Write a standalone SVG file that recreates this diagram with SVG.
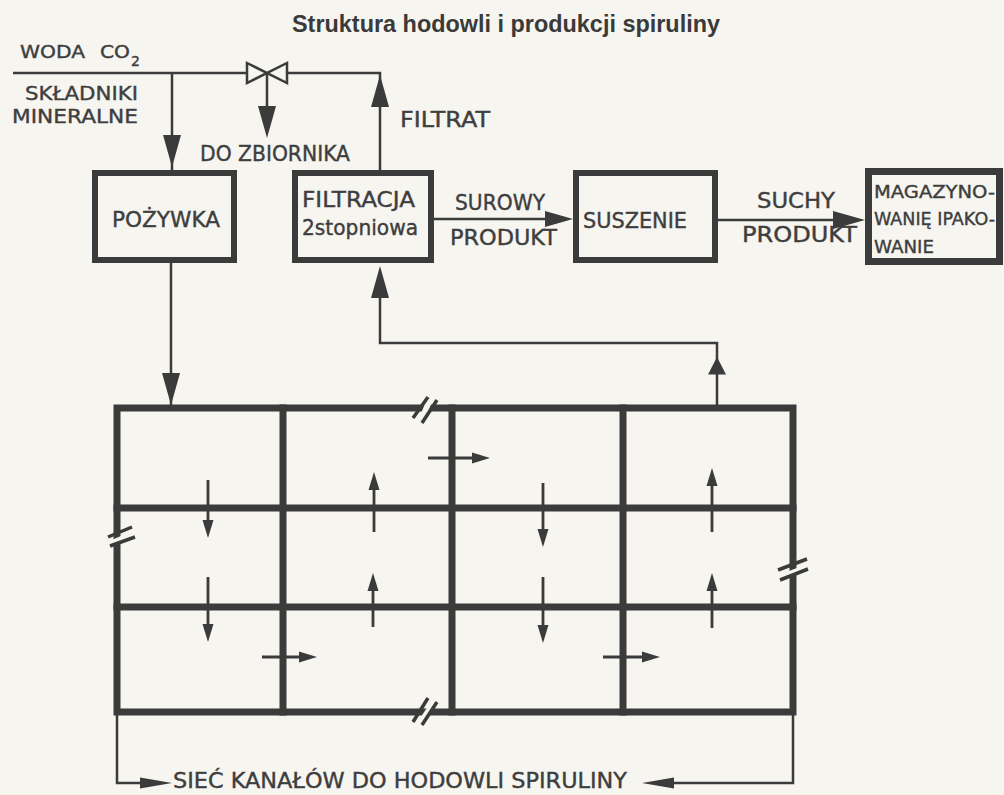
<svg xmlns="http://www.w3.org/2000/svg" xmlns:xlink="http://www.w3.org/1999/xlink" width="1004" height="795" viewBox="0 0 1004 795">
<style>
.t{font-family:"DejaVu Sans","Liberation Sans",sans-serif;font-size:21px;fill:#3e3e3e;stroke:#3e3e3e;stroke-width:0.4}
.ttl{font-family:"Liberation Sans",Arial,sans-serif;font-weight:bold;font-size:23px;fill:#3a3a3a}
.thin{stroke:#3b3b3b;stroke-width:2.5;fill:none}
.box{stroke:#3b3b3b;stroke-width:6;fill:none}
.grid{stroke:#3b3b3b;stroke-width:7;fill:none;stroke-linecap:square}
.small{stroke:#3b3b3b;stroke-width:2.8;fill:none}
.ah{fill:#3b3b3b}
.tear{stroke:#3b3b3b;stroke-width:3.5;fill:none}
.gap{fill:#f7f5f0;stroke:none}
</style>
<defs>
<path id="ahB" d="M0,0 L-32,-9 L-32,9 Z"/>
<path id="ahM" d="M0,0 L-28,-8 L-28,8 Z"/>
<path id="ahS" d="M0,0 L-18,-5.5 L-18,5.5 Z"/>
</defs>
<rect x="0" y="0" width="1004" height="795" fill="#f7f5f0"/>

<text class="ttl" x="292" y="32" textLength="428" lengthAdjust="spacingAndGlyphs">Struktura hodowli i produkcji spiruliny</text>

<g id="inputs">
<text class="t" x="20" y="58" style="font-size:18px" textLength="65" lengthAdjust="spacingAndGlyphs">WODA</text>
<text class="t" x="100" y="58" style="font-size:18px" textLength="30" lengthAdjust="spacingAndGlyphs">CO</text>
<text class="t" x="131" y="66" style="font-size:14px">2</text>
<text class="t" x="25" y="100" style="font-size:20px" textLength="113" lengthAdjust="spacingAndGlyphs">SKŁADNIKI</text>
<text class="t" x="12" y="123" style="font-size:20px" textLength="126" lengthAdjust="spacingAndGlyphs">MINERALNE</text>
</g>

<g id="valve">
<path class="thin" d="M247,63 L287,83 L287,63 L247,83 Z" fill="#f7f5f0"/>
</g>

<g id="pozywka">
<rect class="box" x="95" y="173" width="139" height="87"/>
<text class="t" x="112" y="227" textLength="108" lengthAdjust="spacingAndGlyphs">POŻYWKA</text>
</g>

<g id="filtracja">
<rect class="box" x="295" y="173" width="136" height="87"/>
<text class="t" x="302" y="207" textLength="113" lengthAdjust="spacingAndGlyphs">FILTRACJA</text>
<text class="t" x="302" y="235" textLength="116" lengthAdjust="spacingAndGlyphs">2stopniowa</text>
</g>

<g id="suszenie">
<rect class="box" x="576" y="173" width="139" height="87"/>
<text class="t" x="583" y="228" textLength="104" lengthAdjust="spacingAndGlyphs">SUSZENIE</text>
</g>

<g id="magazynowanie">
<rect class="box" x="868.5" y="171.5" width="131" height="90" style="stroke-width:7"/>
<text class="t" x="874" y="198" style="font-size:18px" textLength="121" lengthAdjust="spacingAndGlyphs">MAGAZYNO-</text>
<text class="t" x="874" y="225" style="font-size:18px" textLength="121" lengthAdjust="spacingAndGlyphs">WANIĘ IPAKO-</text>
<text class="t" x="874" y="253" style="font-size:18px" textLength="60" lengthAdjust="spacingAndGlyphs">WANIE</text>
</g>

<g id="siec-kanalow">
<path class="grid" d="M117,408 H793 V712 H117 Z"/>
<path class="grid" d="M117,508 H793 M117,607 H793 M283,408 V712 M452,408 V712 M623,408 V712"/>
<polygon class="gap" points="418,420 428,397 433,400 423,423"/>
<path class="tear" d="M413,418 L428,397 M422,423 L437,400"/>
<polygon class="gap" points="109,541 133,531 134,537 110,546"/>
<path class="tear" d="M108,537 L132,527 M110,546 L135,537"/>
<polygon class="gap" points="779,575 807,564 808,569 780,580"/>
<path class="tear" d="M778,570 L807,559 M780,580 L808,569"/>
<polygon class="gap" points="417,723 432,700 437,702 422,725"/>
<path class="tear" d="M413,722 L428,698 M422,725 L437,702"/>
<path class="small" d="M208,480 V525 M374,532 V485 M428,458 H477 M543,483 V534 M712,532 V481 M208,577 V629 M373,627 V586 M262,657 H304 M543,577 V630 M712,628 V586 M603,657 H647"/>
<use href="#ahS" class="ah" transform="translate(208,538) rotate(90)"/>
<use href="#ahS" class="ah" transform="translate(374,472) rotate(-90)"/>
<use href="#ahS" class="ah" transform="translate(490,458)"/>
<use href="#ahS" class="ah" transform="translate(543,547) rotate(90)"/>
<use href="#ahS" class="ah" transform="translate(712,468) rotate(-90)"/>
<use href="#ahS" class="ah" transform="translate(208,642) rotate(90)"/>
<use href="#ahS" class="ah" transform="translate(373,573) rotate(-90)"/>
<use href="#ahS" class="ah" transform="translate(317,657)"/>
<use href="#ahS" class="ah" transform="translate(543,643) rotate(90)"/>
<use href="#ahS" class="ah" transform="translate(712,573) rotate(-90)"/>
<use href="#ahS" class="ah" transform="translate(660,657)"/>
<text class="t" x="173" y="788" textLength="454" lengthAdjust="spacingAndGlyphs">SIEĆ KANAŁÓW DO HODOWLI SPIRULINY</text>
</g>

<g id="connectors">
<path class="thin" d="M13,73 H247 M287,73 H380 V170"/>
<path class="thin" d="M172,73 V170"/>
<use href="#ahB" class="ah" transform="translate(172,167) rotate(90)"/>
<path class="thin" d="M267,73 V110"/>
<use href="#ahB" class="ah" transform="translate(267,138) rotate(90)"/>
<use href="#ahB" class="ah" transform="translate(380,75) rotate(-90)"/>
<path class="thin" d="M171,263 V405"/>
<use href="#ahB" class="ah" transform="translate(171,405) rotate(90)"/>
<path class="thin" d="M434,219 H550"/>
<use href="#ahM" class="ah" transform="translate(573,219)"/>
<path class="thin" d="M718,220 H840"/>
<use href="#ahB" class="ah" transform="translate(865,220)"/>
<path class="thin" d="M717,405 V343 H380 V290"/>
<use href="#ahB" class="ah" transform="translate(380,266) rotate(-90)"/>
<use href="#ahB" class="ah" transform="translate(717,357) rotate(-90) scale(0.55,1)"/>
<path class="thin" d="M117,712 V783 H150"/>
<use href="#ahB" class="ah" transform="translate(172,783) scale(1,0.6)"/>
<path class="thin" d="M793,712 V783 H665"/>
<use href="#ahB" class="ah" transform="translate(642,783) rotate(180) scale(1,0.6)"/>
</g>

<g id="labels">
<text class="t" x="200" y="161" textLength="150" lengthAdjust="spacingAndGlyphs">DO ZBIORNIKA</text>
<text class="t" x="400" y="127" textLength="90" lengthAdjust="spacingAndGlyphs">FILTRAT</text>
<text class="t" x="455" y="210" textLength="90" lengthAdjust="spacingAndGlyphs">SUROWY</text>
<text class="t" x="450" y="245" textLength="107" lengthAdjust="spacingAndGlyphs">PRODUKT</text>
<text class="t" x="757" y="208" textLength="78" lengthAdjust="spacingAndGlyphs">SUCHY</text>
<text class="t" x="742" y="242" textLength="115" lengthAdjust="spacingAndGlyphs">PRODUKT</text>
</g>
</svg>
